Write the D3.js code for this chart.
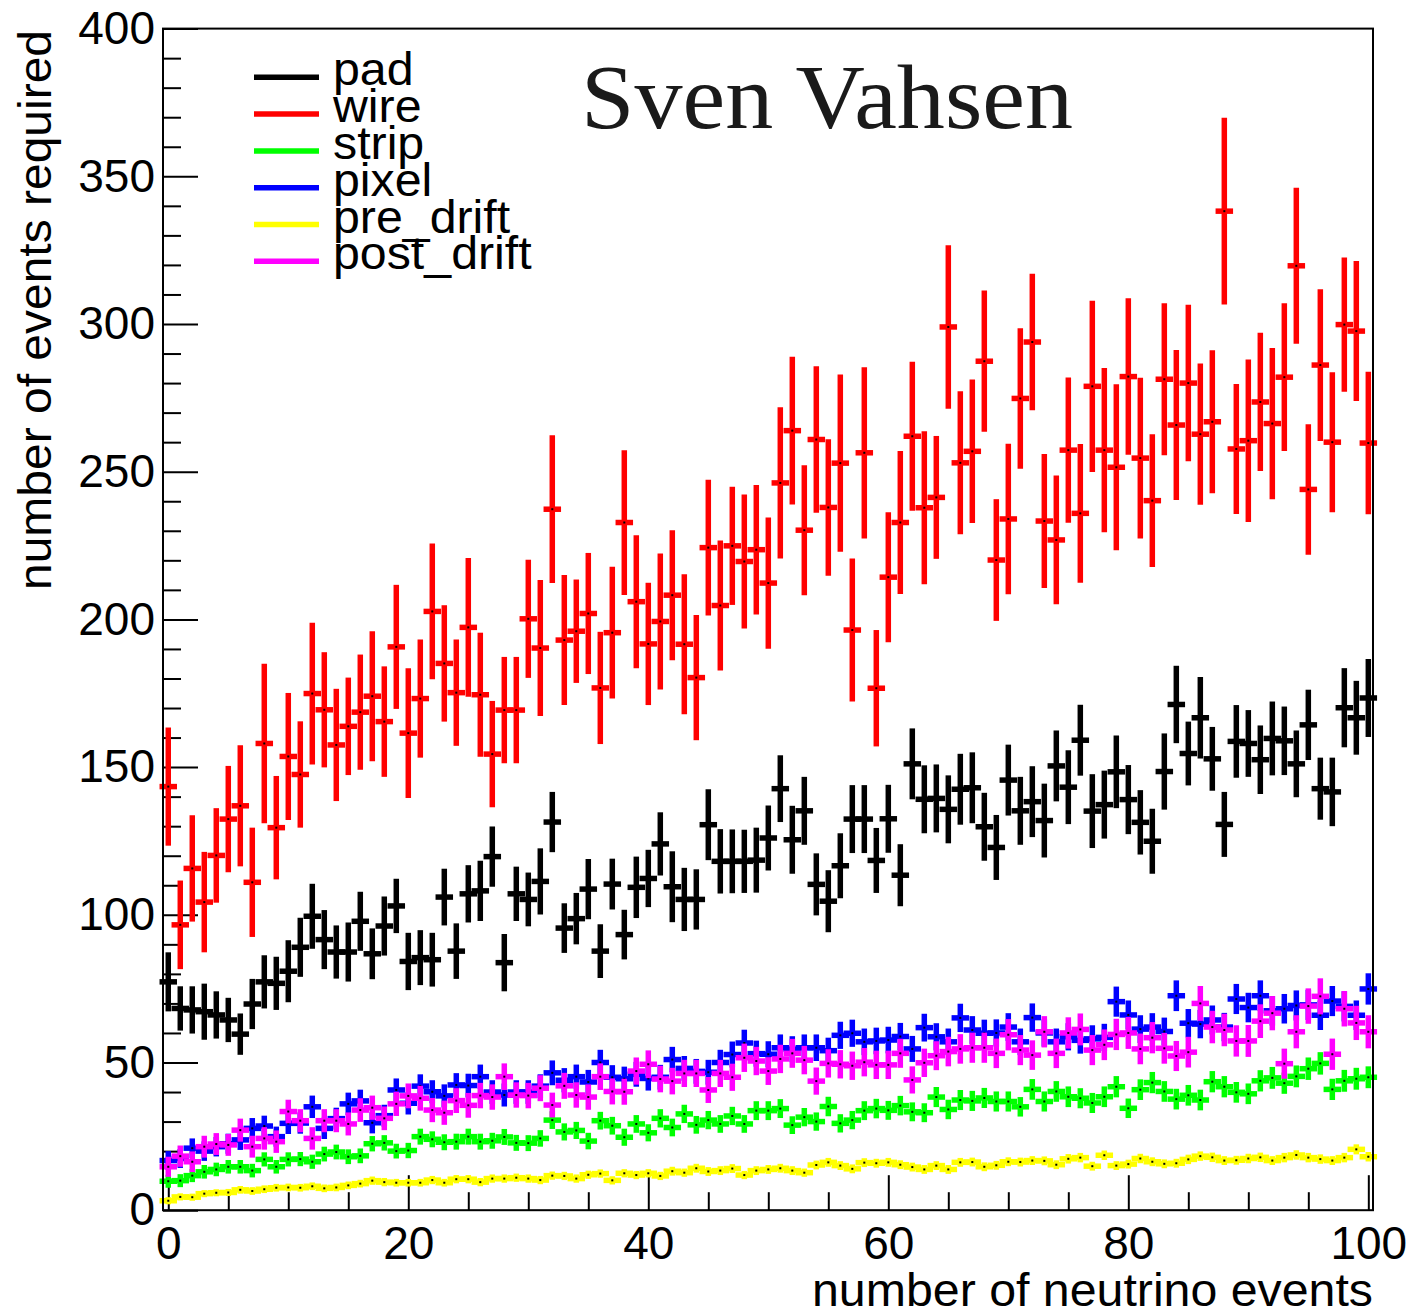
<!DOCTYPE html>
<html><head><meta charset="utf-8">
<script src="https://cdn.jsdelivr.net/npm/d3@7"></script>
<style>body{margin:0;background:#fff;} svg{display:block;}</style>
</head><body>
<svg id="chart" width="1413" height="1315"></svg>
<script>
const categories = [0,1,2,3,4,5,6,7,8,9,10,11,12,13,14,15,16,17,18,19,20,21,22,23,24,25,26,27,28,29,30,31,32,33,34,35,36,37,38,39,40,41,42,43,44,45,46,47,48,49,50,51,52,53,54,55,56,57,58,59,60,61,62,63,64,65,66,67,68,69,70,71,72,73,74,75,76,77,78,79,80,81,82,83,84,85,86,87,88,89,90,91,92,93,94,95,96,97,98,99,100];

const padValues = [77.3,68.3,67.8,67.2,66.1,64.4,59.6,69.8,77.3,76.8, 80.9,89.0,99.5,91.6,87.4,87.4,97.8,86.8,96.2,103.0, 84.2,85.5,84.8,106.0,87.7,107.1,108.1,119.7,83.8,107.1, 105.2,111.3,131.4,95.5,98.7,108.7,87.7,110.4,93.3,109.3, 112.3,124.0,109.5,105.2,105.2,130.5,118.1,118.1,118.1,118.5, 126.0,142.7,125.4,135.2,110.3,104.6,116.6,132.4,132.4,118.4, 132.5,113.4,151.1,139.1,139.4,135.7,142.5,143.0,129.8,122.8, 145.6,135.2,138.3,131.9,150.4,143.2,159.1,135.1,137.3,148.4, 139.0,131.3,124.9,148.5,171.2,154.6,166.7,152.8,130.6,158.7, 158.0,152.5,159.7,158.9,151.1,164.3,142.7,141.6,170.1,166.7, 173.4];
const padErrors = [10,7.5,8,9.5,8,7.5,7,8.5,9,9, 10.5,10,11,10,9,10,10,8.6,10,9.2, 9.7,9.3,9.1,9.6,9.4,9.7,10.2,10.2,9.7,9.2, 9.1,11.2,10.2,8.4,8.7,10.2,9.1,8.6,8.4,10.4, 9.7,10.7,12,10.7,10.2,12,10.9,10.8,10.7,11, 11,11.3,11.5,11.5,10.5,10.5,11,11.5,11.5,11, 11.5,10.5,12,11.5,11.5,11.5,12,12,11.5,11, 12,11.5,12,12.5,12,12.5,12,12.5,11.5,12.3, 11.7,10.9,11,12.9,13.1,10.8,13.8,10.8,11,12.3, 11.3,11.6,12.5,11.6,11.3,11.9,10.5,11.6,13.4,12.5, 13.2];

const wireValues = [143.4,96.6,115.7,104.3,120.1,132.4,136.9,111.0,158.0,129.5, 153.6,147.5,174.9,169.4,157.5,163.8,168.6,174.0,165.4,190.7, 161.5,173.2,202.7,185.1,175.2,197.3,174.5,154.4,169.3,169.3, 200.2,190.3,237.3,193.0,196.0,202.0,176.8,195.5,232.8,206.0, 191.7,199.3,208.2,191.6,180.3,224.3,204.7,224.9,219.6,223.6, 212.3,246.2,263.9,230.2,260.9,237.9,252.9,196.4,256.4,176.7, 214.3,232.8,262.0,237.8,241.3,299.0,253.0,256.9,287.4,220.1, 234.0,274.8,293.9,233.3,226.9,257.3,235.9,278.9,257.3,251.5, 282.2,254.6,240.2,281.3,265.8,280.0,262.7,266.9,338.2,257.7, 260.5,273.6,266.3,282.0,319.7,244.0,286.1,260.0,299.8,297.6, 259.7];
const wireErrors = [20,15,18,17,16,18,20.5,18.5,27,17.5, 21.5,18,24,19.5,19,16.5,19.5,22,18.7,21, 22,20,23,19.7,18,23.5,21,18,18,18, 20,23,25,22,17.5,20.5,19,22.3,24.5,22.5, 20.7,23,22,23.7,21.2,23,22,20,22.7,21.9, 22.2,25.6,25,22,24.8,23.1,30,24.2,29,19.7, 22,24.2,25.2,25.9,20.8,27.7,24.2,24.3,23.9,20.6, 25.5,23.8,23.1,22.7,21.8,24.6,23.5,29,27.8,28.1, 26.5,27.2,22.5,25.7,25.4,26.5,23.9,24.2,31.6,22, 27.5,23.4,25.6,25,26.4,22.1,25.7,23.7,22.7,23.7, 24.1];

const stripValues = [9.8,10.0,11.7,13.0,13.8,14.7,14.7,13.4,17.2,14.7, 17.2,17.3,16.4,19.0,19.7,18.1,18.4,22.5,22.8,20.0, 20.2,24.9,24.0,23.0,23.2,24.9,23.2,23.5,24.8,22.8, 22.7,24.3,30.5,26.5,27.0,23.4,30.3,28.6,24.7,29.2, 26.2,31.1,28.0,32.6,28.9,30.5,29.2,31.9,29.2,33.7, 33.7,34.4,28.8,31.5,30.0,35.1,29.4,30.5,33.7,34.4, 33.8,35.4,33.3,33.0,38.3,34.1,37.3,37.0,38.0,36.8, 36.8,35.0,40.9,36.8,40.2,38.4,37.9,36.3,38.4,41.8, 34.5,40.8,43.2,40.2,37.6,38.9,37.3,43.5,41.8,39.9, 39.4,43.8,44.8,43.0,45.3,47.9,49.7,40.9,43.8,44.5, 45.0];
const stripErrors = [2.2,2.2,2.2,2.3,2.3,2.3,2.3,2.3,2.4,2.3, 2.4,2.4,2.4,2.5,2.5,2.5,2.5,2.6,2.6,2.5, 2.6,2.7,2.7,2.7,2.7,2.7,2.7,2.7,2.7,2.7, 2.7,2.8,3.0,2.9,2.9,2.8,3.0,3.0,2.9,3.0, 2.9,3.1,3.0,3.1,3.0,3.1,3.0,3.1,3.0,3.2, 3.2,3.2,3.0,3.1,3.1,3.3,3.1,3.1,3.2,3.3, 3.2,3.3,3.2,3.2,3.4,3.3,3.4,3.4,3.4,3.4, 3.4,3.3,3.5,3.4,3.5,3.5,3.4,3.4,3.5,3.6, 3.3,3.5,3.6,3.5,3.5,3.5,3.5,3.6,3.6,3.5, 3.5,3.6,3.7,3.6,3.7,3.8,3.8,3.6,3.7,3.7, 3.7];

const pixelValues = [16.8,17.5,21.0,20.0,21.5,22.5,23.8,27.7,28.5,24.9, 29.4,29.5,35.0,27.7,31.0,36.0,37.0,29.6,32.0,40.7, 36.2,42.0,40.1,38.7,42.4,42.2,45.2,40.0,39.0,40.0, 40.0,42.0,46.5,44.0,45.2,43.4,50.0,45.0,44.5,46.0, 44.6,45.0,51.0,48.0,47.0,46.7,50.0,52.7,56.6,53.0, 52.8,55.0,54.5,55.0,55.0,54.0,59.2,59.9,57.0,57.3, 57.6,58.8,54.6,61.8,58.7,57.0,65.1,61.0,59.9,60.0, 62.0,57.0,65.2,60.0,57.0,58.7,57.5,58.0,58.5,70.6, 66.1,61.3,62.0,60.5,72.6,63.3,63.0,64.4,62.0,71.5, 68.6,72.6,67.5,68.2,69.3,69.5,66.0,70.8,69.0,66.0, 74.9];
const pixelErrors = [3.2,3.2,3.3,3.3,3.3,3.4,3.4,3.5,3.5,3.4, 3.6,3.6,3.8,3.6,3.7,3.8,3.8,3.6,3.7,3.9, 3.8,4.0,3.9,3.9,4.0,4.0,4.1,4.0,3.9,4.0, 4.0,4.0,4.2,4.1,4.1,4.1,4.3,4.1,4.1,4.2, 4.1,4.2,4.3,4.2,4.2,4.2,4.3,4.4,4.5,4.4, 4.4,4.5,4.4,4.5,4.5,4.4,4.6,4.6,4.5,4.5, 4.5,4.6,4.4,4.7,4.6,4.5,4.8,4.7,4.6,4.6, 4.7,4.5,4.8,4.6,4.5,4.6,4.5,4.6,4.6,5.1, 4.9,4.7,4.7,4.7,5.2,4.8,4.8,4.9,4.8,5.1, 5.0,5.2,5.0,5.0,5.1,5.1,5.0,5.1,5.1,5.0, 5.3];

const preDriftValues = [3.2,4.5,4.4,5.6,5.9,6.0,6.9,6.5,7.1,7.6, 7.7,7.6,8.1,7.4,7.7,8.4,9.0,10.0,9.5,9.3, 9.3,9.3,10.2,9.3,10.5,10.5,9.5,10.7,10.7,11.0, 10.7,10.2,11.7,11.6,10.7,12.0,12.4,10.1,12.5,11.9, 12.5,11.6,13.2,12.7,14.2,13.1,13.4,14.1,11.9,13.4, 13.8,14.2,13.4,12.7,15.3,16.2,15.1,14.0,16.1,15.9, 16.2,15.4,14.6,13.8,15.1,13.8,16.2,16.3,14.7,15.2, 16.4,16.3,16.8,16.7,15.4,17.4,17.8,14.9,18.6,15.1, 15.6,17.5,16.4,15.7,15.9,17.2,18.3,17.9,16.8,16.9, 17.5,17.9,16.8,17.8,18.7,17.8,17.3,16.8,17.8,20.6, 18.1];
const preDriftErrors = [1.2,1.2,1.2,1.2,1.2,1.2,1.3,1.3,1.3,1.3, 1.3,1.3,1.3,1.3,1.3,1.3,1.3,1.4,1.4,1.3, 1.3,1.3,1.4,1.3,1.4,1.4,1.4,1.4,1.4,1.4, 1.4,1.4,1.4,1.4,1.4,1.4,1.4,1.4,1.4,1.4, 1.4,1.4,1.5,1.4,1.5,1.5,1.5,1.5,1.4,1.5, 1.5,1.5,1.5,1.4,1.5,1.5,1.5,1.5,1.5,1.5, 1.5,1.5,1.5,1.5,1.5,1.5,1.5,1.5,1.5,1.5, 1.5,1.5,1.5,1.5,1.5,1.6,1.6,1.5,1.6,1.5, 1.5,1.6,1.5,1.5,1.5,1.6,1.6,1.6,1.5,1.5, 1.6,1.6,1.5,1.6,1.6,1.6,1.6,1.5,1.6,1.7, 1.6];

const postDriftValues = [14.7,18.3,16.4,21.5,22.4,22.1,27.1,21.5,24.3,23.2, 33.4,30.3,24.3,30.3,30.3,29.2,33.9,34.7,31.1,36.0, 38.7,37.9,33.9,33.0,37.1,35.5,38.8,38.3,45.2,39.0, 38.8,41.3,35.6,42.1,39.0,38.3,45.2,40.2,40.1,47.1, 49.4,44.4,43.7,46.3,46.3,40.7,46.3,45.0,51.6,50.5, 47.1,51.2,53.1,50.8,43.7,49.7,49.4,48.9,50.1,49.2, 49.2,53.1,44.1,49.9,52.3,53.7,54.6,55.0,55.0,53.1, 59.4,54.2,52.5,60.4,53.1,60.0,61.2,54.2,56.0,59.5, 60.0,54.6,58.4,54.8,52.2,53.5,70.0,62.0,61.0,57.3, 57.3,64.0,66.7,49.6,60.4,69.1,72.4,52.8,68.2,63.4, 60.4];
const postDriftErrors = [3.4,3.6,3.5,3.7,3.7,3.7,3.9,3.7,3.8,3.8, 4.0,3.9,3.8,3.9,3.9,3.9,4.0,4.1,4.0,4.1, 4.2,4.2,4.1,4.1,4.2,4.2,4.3,4.3,4.5,4.3, 4.3,4.4,4.2,4.4,4.3,4.3,4.5,4.4,4.4,4.6, 4.7,4.5,4.5,4.6,4.6,4.4,4.6,4.6,4.8,4.8, 4.7,4.8,4.9,4.8,4.6,4.8,4.8,4.8,4.8,4.8, 4.8,4.9,4.6,4.8,4.9,5.0,5.0,5.1,5.1,5.0, 5.3,5.1,5.0,5.3,5.0,5.3,5.4,5.1,5.2,5.3, 5.4,5.2,5.3,5.2,5.1,5.2,5.9,5.5,5.5,5.3, 5.4,5.7,5.8,5.1,5.6,6.0,6.1,5.3,6.0,5.8, 5.6];

const seriesNames = ["pad","wire","strip","pixel","pre_drift","post_drift"];
const seriesColors = ["#000000","#ff0000","#00ff00","#0000ff","#ffff00","#ff00ff"];
const yTickValues = [0,50,100,150,200,250,300,350,400];
const xTickValues = [0,20,40,60,80,100];
const titleText = "Sven Vahsen";
const xAxisTitle = "number of neutrino events";
const yAxisTitle = "number of events required";

const allValues = [padValues, wireValues, stripValues, pixelValues, preDriftValues, postDriftValues];
const allErrors = [padErrors, wireErrors, stripErrors, pixelErrors, preDriftErrors, postDriftErrors];

const svg = d3.select("#chart");
const FL = 163, FR = 1373, FT = 28.6, FB = 1210.2;
const x = d3.scaleLinear().domain([-0.44, 100.39]).range([FL, FR]);
const y = d3.scaleLinear().domain([0, 400]).range([FB, FT]);
const sans = "'Liberation Sans', Arial, Helvetica, sans-serif";

svg.append("rect").attr("width",1413).attr("height",1315).attr("fill","#fff");

// minor ticks
const yMinor = d3.range(0, 401, 10).filter(v => v % 50 !== 0);
const xMinor = d3.range(0, 101, 5).filter(v => v % 20 !== 0);

const gyMinor = svg.append("g").attr("transform", `translate(${FL},0)`)
  .call(d3.axisLeft(y).tickValues(yMinor).tickSizeInner(-18).tickSizeOuter(0).tickFormat(""));
const gxMinor = svg.append("g").attr("transform", `translate(0,${FB})`)
  .call(d3.axisBottom(x).tickValues(xMinor).tickSizeInner(-18).tickSizeOuter(0).tickFormat(""));

const gy = svg.append("g").attr("transform", `translate(${FL},0)`)
  .call(d3.axisLeft(y).tickValues(yTickValues).tickSizeInner(-35).tickSizeOuter(0).tickPadding(8).tickFormat(d3.format("d")));
const gx = svg.append("g").attr("transform", `translate(0,${FB})`)
  .call(d3.axisBottom(x).tickValues(xTickValues).tickSizeInner(-35).tickSizeOuter(0).tickPadding(16).tickFormat(d3.format("d")));

[gyMinor, gxMinor, gy, gx].forEach(g => {
  g.select(".domain").remove();
  g.selectAll(".tick line").attr("stroke", "#000").attr("stroke-width", 2);
  g.selectAll(".tick text").attr("fill", "#000").style("font-family", sans).style("font-size", "46px");
});

// series
seriesNames.forEach((name, si) => {
  const color = seriesColors[si];
  const vals = allValues[si], errs = allErrors[si];
  const pts = categories.map((c, i) => ({c: c, v: vals[i], e: errs[i]}));
  const g = svg.append("g").attr("class", "series-" + name);
  g.selectAll("line.vbar").data(pts).join("line").attr("class", "vbar")
    .attr("x1", d => x(d.c)).attr("x2", d => x(d.c))
    .attr("y1", d => y(d.v - d.e)).attr("y2", d => y(d.v + d.e))
    .attr("stroke", color).attr("stroke-width", 5.5);
  g.selectAll("line.hbar").data(pts).join("line").attr("class", "hbar")
    .attr("x1", d => x(d.c - 0.5)).attr("x2", d => x(d.c + 0.5))
    .attr("y1", d => y(d.v)).attr("y2", d => y(d.v))
    .attr("stroke", color).attr("stroke-width", 5.5).attr("stroke-linecap", "square");
  g.selectAll("rect.dot").data(pts).join("rect").attr("class", "dot")
    .attr("x", d => x(d.c) - 1).attr("y", d => y(d.v) - 1)
    .attr("width", 2).attr("height", 2).attr("fill", "#000");
});

// frame
svg.append("rect").attr("x", FL).attr("y", FT).attr("width", FR - FL).attr("height", FB - FT)
  .attr("fill", "none").attr("stroke", "#000").attr("stroke-width", 2);

// legend
const legend = svg.append("g");
seriesNames.forEach((name, i) => {
  const ly = 77.3 + 36.8 * i;
  legend.append("line").attr("x1", 254).attr("x2", 319).attr("y1", ly).attr("y2", ly)
    .attr("stroke", seriesColors[i]).attr("stroke-width", 5.5);
  legend.append("text").attr("transform", `translate(333,${ly + 8}) scale(1.05,1)`).text(name)
    .style("font-family", sans).style("font-size", "46px").attr("fill", "#000");
});

// title
svg.append("text").attr("x", 581).attr("y", 128).text(titleText)
  .attr("textLength", 492).attr("lengthAdjust", "spacingAndGlyphs")
  .style("font-family", "'Liberation Serif', 'Times New Roman', serif").style("font-size", "90px").attr("fill", "#1a1a1a");

// axis titles
svg.append("text").attr("x", FR).attr("y", 1306).attr("text-anchor", "end").text(xAxisTitle)
  .attr("textLength", 561).attr("lengthAdjust", "spacingAndGlyphs")
  .style("font-family", sans).style("font-size", "46px").attr("fill", "#000");
svg.append("text").attr("transform", "translate(51,30) rotate(-90)").attr("text-anchor", "end").text(yAxisTitle)
  .attr("textLength", 560).attr("lengthAdjust", "spacingAndGlyphs")
  .style("font-family", sans).style("font-size", "46px").attr("fill", "#000");
</script>
</body></html>
